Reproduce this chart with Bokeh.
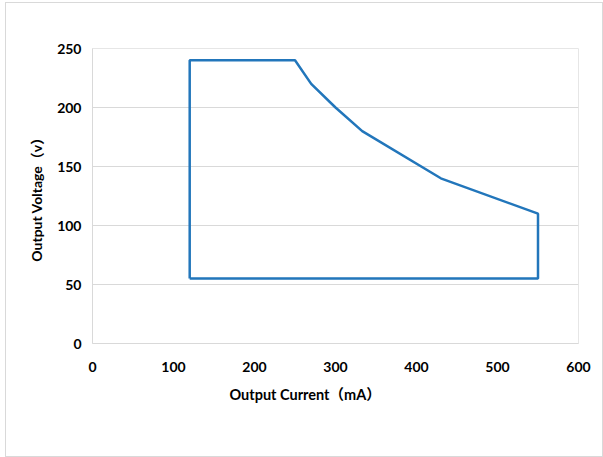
from bokeh.plotting import figure
from bokeh.models import Range1d, FixedTicker, Title
from bokeh.embed import file_html
from bokeh.resources import INLINE

# Data (output current in mA, output voltage in V) - boundary of operating area
current_ma = [120, 120, 250, 270, 300, 333, 430, 550, 550, 120]
voltage_v = [55, 240, 240, 220, 200, 180, 140, 110, 55, 55]

x_ticks = [0, 100, 200, 300, 400, 500, 600]
y_ticks = [0, 50, 100, 150, 200, 250]

x_title = "Output Current（mA）"
y_title = "Output Voltage（v）"

FONT = "Lato, 'Noto Sans CJK SC', sans-serif"

p = figure(width=598, height=455, output_backend="svg", toolbar_location=None,
           x_range=Range1d(0, 600), y_range=Range1d(0, 250),
           min_border_left=86, min_border_top=45, min_border_right=24, min_border_bottom=113,
           frame_width=486, frame_height=295)

p.line(current_ma, voltage_v, line_color="#2276BB", line_width=2.5)

p.xaxis.ticker = FixedTicker(ticks=x_ticks)
p.yaxis.ticker = FixedTicker(ticks=y_ticks)
p.yaxis.axis_label = y_title

for ax in (p.xaxis, p.yaxis):
    ax.axis_line_color = "#d9d9d9"
    ax.major_tick_line_color = None
    ax.minor_tick_line_color = None
    ax.major_label_text_font = FONT
    ax.major_label_text_font_style = "bold"
    ax.major_label_text_font_size = "14px"
    ax.major_label_text_color = "#000000"
    ax.axis_label_text_font = FONT
    ax.axis_label_text_font_style = "bold"
    ax.axis_label_text_font_size = "14px"
    ax.axis_label_text_color = "#000000"

p.xaxis.major_label_standoff = 12
p.yaxis.major_label_standoff = 5
p.yaxis.axis_label_standoff = 9

# x-axis title, placed left of centre as in the original chart
p.add_layout(Title(text=x_title, align="left", offset=137, standoff=18,
                   text_font=FONT, text_font_style="bold", text_font_size="14.5px",
                   text_color="#000000"), "below")

p.xgrid.grid_line_color = None
p.ygrid.grid_line_color = "#d9d9d9"
p.ygrid.grid_line_width = 1

p.outline_line_color = "#e6e6e6"
p.outline_line_width = 1
p.background_fill_color = "white"
p.border_fill_color = "white"
p.styles = {"border": "1px solid #d9d9d9", "margin-left": "5px", "margin-top": "2px"}

open("out.html", "w").write(file_html(p, INLINE))
